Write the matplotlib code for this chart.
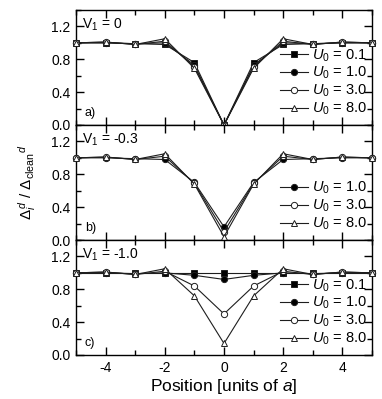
import matplotlib
matplotlib.use("Agg")
import matplotlib.pyplot as plt
from matplotlib.ticker import MultipleLocator

plt.rcParams['font.family'] = ['Liberation Sans', 'DejaVu Sans']
plt.rcParams['mathtext.fontset'] = 'custom'
plt.rcParams['mathtext.rm'] = 'Liberation Sans'
plt.rcParams['mathtext.it'] = 'Liberation Sans:italic'
plt.rcParams['mathtext.bf'] = 'Liberation Sans:bold'

positions = [-5, -4, -3, -2, -1, 0, 1, 2, 3, 4, 5]

# Panel a) V1 = 0
a_u01 = [1.00, 1.00, 0.99, 0.98, 0.76, 0.00, 0.76, 0.98, 0.99, 1.00, 1.00]
a_u10 = [1.00, 1.00, 0.99, 1.00, 0.73, 0.00, 0.73, 1.00, 0.99, 1.00, 1.00]
a_u30 = [1.00, 1.01, 0.98, 1.02, 0.71, 0.00, 0.71, 1.02, 0.98, 1.01, 1.00]
a_u80 = [1.00, 1.01, 0.98, 1.05, 0.69, 0.00, 0.69, 1.05, 0.98, 1.01, 1.00]

# Panel b) V1 = -0.3
b_u10 = [1.00, 1.00, 0.99, 0.98, 0.70, 0.16, 0.70, 0.98, 0.99, 1.00, 1.00]
b_u30 = [1.00, 1.01, 0.98, 1.02, 0.69, 0.10, 0.69, 1.02, 0.98, 1.01, 1.00]
b_u80 = [1.00, 1.01, 0.98, 1.05, 0.68, 0.04, 0.68, 1.05, 0.98, 1.01, 1.00]

# Panel c) V1 = -1.0
c_u01 = [1.00, 1.00, 1.00, 1.00, 1.00, 1.00, 1.00, 1.00, 1.00, 1.00, 1.00]
c_u10 = [1.00, 1.00, 0.99, 1.00, 0.97, 0.92, 0.97, 1.00, 0.99, 1.00, 1.00]
c_u30 = [1.00, 1.01, 0.98, 1.02, 0.84, 0.50, 0.84, 1.02, 0.98, 1.01, 1.00]
c_u80 = [1.00, 1.01, 0.98, 1.05, 0.72, 0.14, 0.72, 1.05, 0.98, 1.01, 1.00]

u_labels = {'0.1': r'$U_0$ = 0.1', '1.0': r'$U_0$ = 1.0',
            '3.0': r'$U_0$ = 3.0', '8.0': r'$U_0$ = 8.0'}
styles = {'0.1': dict(marker='s', mfc='black', ms=4.3),
          '1.0': dict(marker='o', mfc='black', ms=4.5),
          '3.0': dict(marker='o', mfc='white', ms=4.5),
          '8.0': dict(marker='^', mfc='white', ms=5.0)}

panels = [
    ('V$_1$ = 0', 'a)', [('0.1', a_u01), ('1.0', a_u10), ('3.0', a_u30), ('8.0', a_u80)]),
    ('V$_1$ = -0.3', 'b)', [('1.0', b_u10), ('3.0', b_u30), ('8.0', b_u80)]),
    ('V$_1$ = -1.0', 'c)', [('0.1', c_u01), ('1.0', c_u10), ('3.0', c_u30), ('8.0', c_u80)]),
]

fig = plt.figure(figsize=(3.82, 3.99), dpi=100)
left, right, top, bottom = 76/382, 372/382, 1 - 10/399, 1 - 355/399
h = (top - bottom) / 3
line_color = '#1e1e1e'
for i, (vtxt, ptxt, series) in enumerate(panels):
    ax = fig.add_axes([left, top - (i + 1) * h, right - left, h])
    for key, vals in series:
        st = styles[key]
        ax.plot(positions, vals, color=line_color, lw=0.8, marker=st['marker'],
                mfc=st['mfc'], mec=line_color, ms=st['ms'],
                mew=0.7, label=u_labels[key], clip_on=False, zorder=3)
    ax.set_xlim(-5, 5)
    ax.set_ylim(0, 1.4)
    ax.xaxis.set_major_locator(MultipleLocator(2))
    ax.xaxis.set_minor_locator(MultipleLocator(1))
    ax.yaxis.set_major_locator(MultipleLocator(0.4))
    ax.yaxis.set_minor_locator(MultipleLocator(0.2))
    ax.tick_params(which='both', direction='in', top=True, right=True, width=1.0)
    ax.tick_params(which='major', length=6, labelsize=10, pad=4)
    ax.tick_params(which='minor', length=3.5)
    for sp in ax.spines.values():
        sp.set_linewidth(1.0)
    ax.set_yticks([0.0, 0.4, 0.8, 1.2])
    ax.set_yticklabels(['0.0', '0.4', '0.8', '1.2'])
    ax.text(0.02, 0.94, vtxt, transform=ax.transAxes, fontsize=10, va='top', ha='left')
    ax.text(0.03, 0.05, ptxt, transform=ax.transAxes, fontsize=9, va='bottom', ha='left')
    ax.legend(loc='lower right', frameon=False, fontsize=10.5, handlelength=1.9,
              handletextpad=0.3, labelspacing=0.1, borderaxespad=0.0,
              borderpad=0.3, bbox_to_anchor=(1.0, 0.03))
    if i < 2:
        ax.tick_params(labelbottom=False)
    else:
        ax.set_xticks([-4, -2, 0, 2, 4])
        ax.set_xticklabels(['-4', '-2', '0', '2', '4'])
        ax.set_xlabel('Position [units of $a$]', fontsize=12.5, labelpad=2)

fig.text(0.072, (top + bottom) / 2, r'$\Delta_i^{\,d}$ / $\Delta_{\mathrm{clean}}{}^{d}$',
         rotation=90, ha='center', va='center', fontsize=11)

fig.savefig('out.png', dpi=100)
